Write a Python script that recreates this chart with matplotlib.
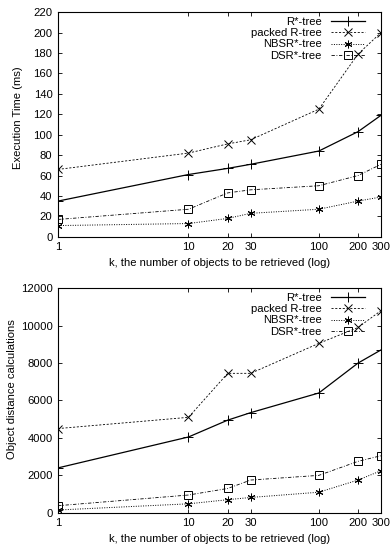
import matplotlib
matplotlib.use("Agg")
import matplotlib.pyplot as plt
from matplotlib.ticker import FixedLocator, NullLocator

plt.rcParams['font.family'] = ['Liberation Sans', 'DejaVu Sans']
plt.rcParams['font.size'] = 8.1

# k values (log x axis)
k_values = [1, 10, 20, 30, 100, 200, 300]
x_ticks = [1, 10, 20, 30, 100, 200, 300]
series_names = ['R*-tree', 'packed R-tree', 'NBSR*-tree', 'DSR*-tree']

# execution time (ms)
time_rstar = [35, 61, 67, 71, 84, 103, 119]
time_packed = [66, 82, 91, 95, 125, 179, 200]
time_nbsr = [11, 13, 18, 23, 27, 35, 39]
time_dsr = [17, 27, 43, 46, 50, 60, 71]

# object distance calculations
dist_rstar = [2400, 4050, 4950, 5350, 6400, 8000, 8700]
dist_packed = [4500, 5100, 7450, 7450, 9050, 9900, 10800]
dist_nbsr = [150, 480, 700, 820, 1100, 1750, 2250]
dist_dsr = [380, 950, 1300, 1750, 2000, 2750, 3050]

styles = [
    dict(marker='+', linestyle='-', markersize=6.5, linewidth=0.9),
    dict(marker='x', linestyle=(0, (2.5, 2)), markersize=5.5, linewidth=0.6),
    dict(marker=(6, 2, 0), linestyle=(0, (1, 1.5)), markersize=5.5, linewidth=0.7),
    dict(marker='s', linestyle=(0, (4, 2, 1, 2)), markersize=5.5, linewidth=0.6,
         markerfacecolor='none'),
]


def draw_panel(ax, data, ylabel, ylim, yticks, label_xy):
    for vals, name, st in zip(data, series_names, styles):
        ax.plot(k_values, vals, color='black', markeredgewidth=0.7, label=name, **st)
    ax.set_xscale('log')
    ax.set_xlim(1, 300)
    ax.xaxis.set_major_locator(FixedLocator(x_ticks))
    ax.xaxis.set_minor_locator(NullLocator())
    ax.set_xticklabels([str(t) for t in x_ticks])
    ax.set_ylim(*ylim)
    ax.set_yticks(yticks)
    ax.tick_params(direction='in', top=True, right=True, length=3, width=0.6, pad=4)
    for s in ax.spines.values():
        s.set_linewidth(0.8)
    ax.set_xlabel('k, the number of objects to be retrieved (log)', labelpad=4)
    ax.set_ylabel(ylabel)
    ax.yaxis.set_label_coords(*label_xy)
    ax.legend(loc='upper right', bbox_to_anchor=(0.965, 1.0), frameon=False,
              markerfirst=False, handlelength=3.0, borderaxespad=0.25,
              labelspacing=0.1, handletextpad=0.8, borderpad=0.2)


fig = plt.figure(figsize=(3.9, 5.52), dpi=100)
ax1 = fig.add_axes([0.149, 0.571, 0.828, 0.407])
ax2 = fig.add_axes([0.149, 0.071, 0.828, 0.407])

draw_panel(ax1, [time_rstar, time_packed, time_nbsr, time_dsr],
           'Execution Time (ms)', (0, 220), list(range(0, 221, 20)), (-0.108, 0.53))
draw_panel(ax2, [dist_rstar, dist_packed, dist_nbsr, dist_dsr],
           'Object distance calculations', (0, 12000), list(range(0, 12001, 2000)),
           (-0.128, 0.55))

fig.savefig('out.png', dpi=100)
